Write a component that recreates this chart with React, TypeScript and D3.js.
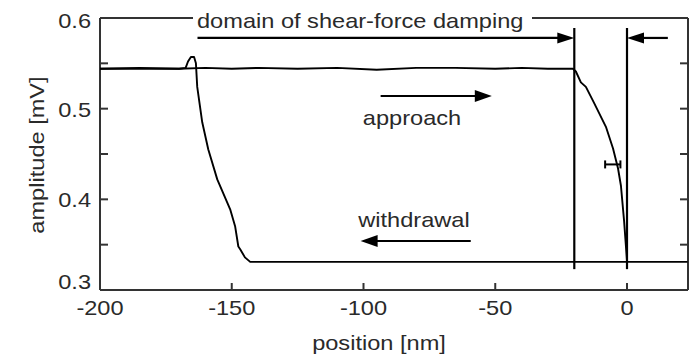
import React from 'react';
import * as d3 from 'd3';

// approach trace (tip moving toward the surface)
const approachPos = [-200, -185, -170, -160, -150, -140, -125, -110, -95, -80, -65, -50, -40, -30, -20.5, -19.4, -17.5, -15.6, -12.6, -8, -5.3, -3.4, -2.3, -1.1, 0];
const approachAmp = [0.544, 0.545, 0.544, 0.545, 0.544, 0.545, 0.544, 0.545, 0.543, 0.545, 0.545, 0.544, 0.545, 0.544, 0.544, 0.541, 0.529, 0.524, 0.507, 0.48, 0.456, 0.434, 0.415, 0.376, 0.332];

// withdrawal trace (tip moving away)
const withdrawalPos = [23, 0, -20, -50, -80, -110, -130, -140, -143, -145, -146.8, -147.5, -148.7, -150.6, -155.5, -158.9, -161.2, -163.1, -163.6, -164.3, -165.5, -166.6, -167.5, -170, -185, -200];
const withdrawalAmp = [0.331, 0.331, 0.331, 0.331, 0.331, 0.331, 0.331, 0.331, 0.331, 0.336, 0.345, 0.348, 0.37, 0.389, 0.422, 0.455, 0.485, 0.524, 0.55, 0.557, 0.557, 0.552, 0.545, 0.544, 0.544, 0.544];

const xTicks = [-200, -150, -100, -50, 0];
const yTicks = [0.3, 0.4, 0.5, 0.6];
const yMinor = [0.35, 0.45, 0.55];

// damping domain markers and error bar
const dampStart = -20;
const dampEnd = 0;
const errBar = { pos: -5.4, half: 2.9, amp: 0.4385 };

const W = 695;
const H = 357;
const left = 100, right = 688, top = 18, bottom = 290;
const FONT = 'Liberation Sans, Arial, sans-serif';
const TXT = '#2a2a2a';
const STRETCH = 1.18; // the original lettering is horizontally stretched

type LabelProps = { x: number; y: number; anchor?: string; rotate?: number; baseline?: string; children: React.ReactNode };

const Label = ({ x, y, anchor = 'start', rotate = 0, baseline, children }: LabelProps) => (
  <text
    transform={`translate(${x},${y}) rotate(${rotate}) scale(${STRETCH},1)`}
    textAnchor={anchor}
    dominantBaseline={baseline}
  >
    {children}
  </text>
);

const App: React.FC = () => {
  const x = d3.scaleLinear().domain([-200, 23.15]).range([left, right]);
  const y = d3.scaleLinear().domain([0.3, 0.6]).range([bottom, top]);

  const line = d3.line<[number, number]>()
    .x(d => x(d[0]))
    .y(d => y(d[1]));

  const approach = approachPos.map((p, i) => [p, approachAmp[i]] as [number, number]);
  const withdrawal = withdrawalPos.map((p, i) => [p, withdrawalAmp[i]] as [number, number]);

  const arrowHead = (tipX: number, tipY: number, dir: number, len = 17, hw = 5.5) =>
    `M${tipX},${tipY} L${tipX - dir * len},${tipY - hw} L${tipX - dir * len},${tipY + hw} Z`;

  const topArrowY = y(0.578);
  const vTop = y(0.589);
  const vBottom = y(0.323);

  const apY = y(0.514);
  const wdY = y(0.354);

  return (
    <svg width={W} height={H} style={{ position: 'absolute', left: 0, top: 0, background: '#fff' }}>
      {/* frame */}
      <g stroke="#333" strokeWidth={2} fill="none">
        <line x1={left} y1={top} x2={left} y2={bottom} />
        <line x1={left} y1={bottom} x2={right} y2={bottom} />
        <line x1={right} y1={top} x2={right} y2={bottom} />
        <line x1={left} y1={top} x2={193} y2={top} />
        <line x1={532} y1={top} x2={right} y2={top} />
      </g>

      {/* ticks */}
      <g stroke="#333" strokeWidth={2}>
        {[...yTicks, ...yMinor].map(t => (
          <line key={'l' + t} x1={left} x2={left + 8} y1={y(t)} y2={y(t)} />
        ))}
        {[...yTicks.filter(t => t > 0.3 && t < 0.6), ...yMinor].map(t => (
          <line key={'r' + t} x1={right} x2={right - 8} y1={y(t)} y2={y(t)} />
        ))}
        {xTicks.slice(1).map(t => (
          <line key={'b' + t} x1={x(t)} x2={x(t)} y1={bottom} y2={bottom - 7} />
        ))}
      </g>

      {/* labels */}
      <g fontFamily={FONT} fontSize={20} fill={TXT}>
        {yTicks.map(t => (
          <Label key={'yl' + t} x={left - 9} y={y(t) + (t === 0.6 ? 3 : t === 0.3 ? -8 : 1)}
            anchor="end" baseline="central">{t.toFixed(1)}</Label>
        ))}
        {xTicks.map(t => (
          <Label key={'xl' + t} x={x(t)} y={315} anchor="middle">{t}</Label>
        ))}
        <Label x={379} y={350} anchor="middle">position [nm]</Label>
        <Label x={44} y={155} rotate={-90} anchor="middle">amplitude [mV]</Label>
        <Label x={197} y={28}>domain of shear-force damping</Label>
        <Label x={412} y={125} anchor="middle">approach</Label>
        <Label x={414} y={227} anchor="middle">withdrawal</Label>
      </g>

      {/* data traces */}
      <path d={line(approach) || ''} fill="none" stroke="#000" strokeWidth={1.9} strokeLinejoin="round" />
      <path d={line(withdrawal) || ''} fill="none" stroke="#000" strokeWidth={1.9} strokeLinejoin="round" />

      {/* error bar */}
      <g stroke="#000" strokeWidth={2}>
        <line x1={x(errBar.pos - errBar.half)} x2={x(errBar.pos + errBar.half)} y1={y(errBar.amp)} y2={y(errBar.amp)} />
        <line x1={x(errBar.pos - errBar.half)} x2={x(errBar.pos - errBar.half)} y1={y(errBar.amp) - 4} y2={y(errBar.amp) + 4} />
        <line x1={x(errBar.pos + errBar.half)} x2={x(errBar.pos + errBar.half)} y1={y(errBar.amp) - 4} y2={y(errBar.amp) + 4} />
      </g>

      {/* damping domain */}
      <g stroke="#000" strokeWidth={2.2}>
        <line x1={x(dampStart)} x2={x(dampStart)} y1={vTop} y2={vBottom} />
        <line x1={x(dampEnd)} x2={x(dampEnd)} y1={vTop} y2={vBottom} />
        <line x1={x(-163)} x2={x(dampStart) - 10} y1={topArrowY} y2={topArrowY} />
        <line x1={x(15.5)} x2={x(dampEnd) + 10} y1={topArrowY} y2={topArrowY} />
      </g>
      <path d={arrowHead(x(dampStart), topArrowY, 1)} fill="#000" />
      <path d={arrowHead(x(dampEnd), topArrowY, -1)} fill="#000" />

      {/* direction arrows */}
      <line x1={x(-93.5)} x2={x(-57)} y1={apY} y2={apY} stroke="#000" strokeWidth={2} />
      <path d={arrowHead(x(-51.3), apY, 1, 17, 6)} fill="#000" />
      <line x1={x(-95)} x2={x(-59.3)} y1={wdY} y2={wdY} stroke="#000" strokeWidth={2} />
      <path d={arrowHead(x(-101.1), wdY, -1, 17, 6)} fill="#000" />
    </svg>
  );
};

export default App;
